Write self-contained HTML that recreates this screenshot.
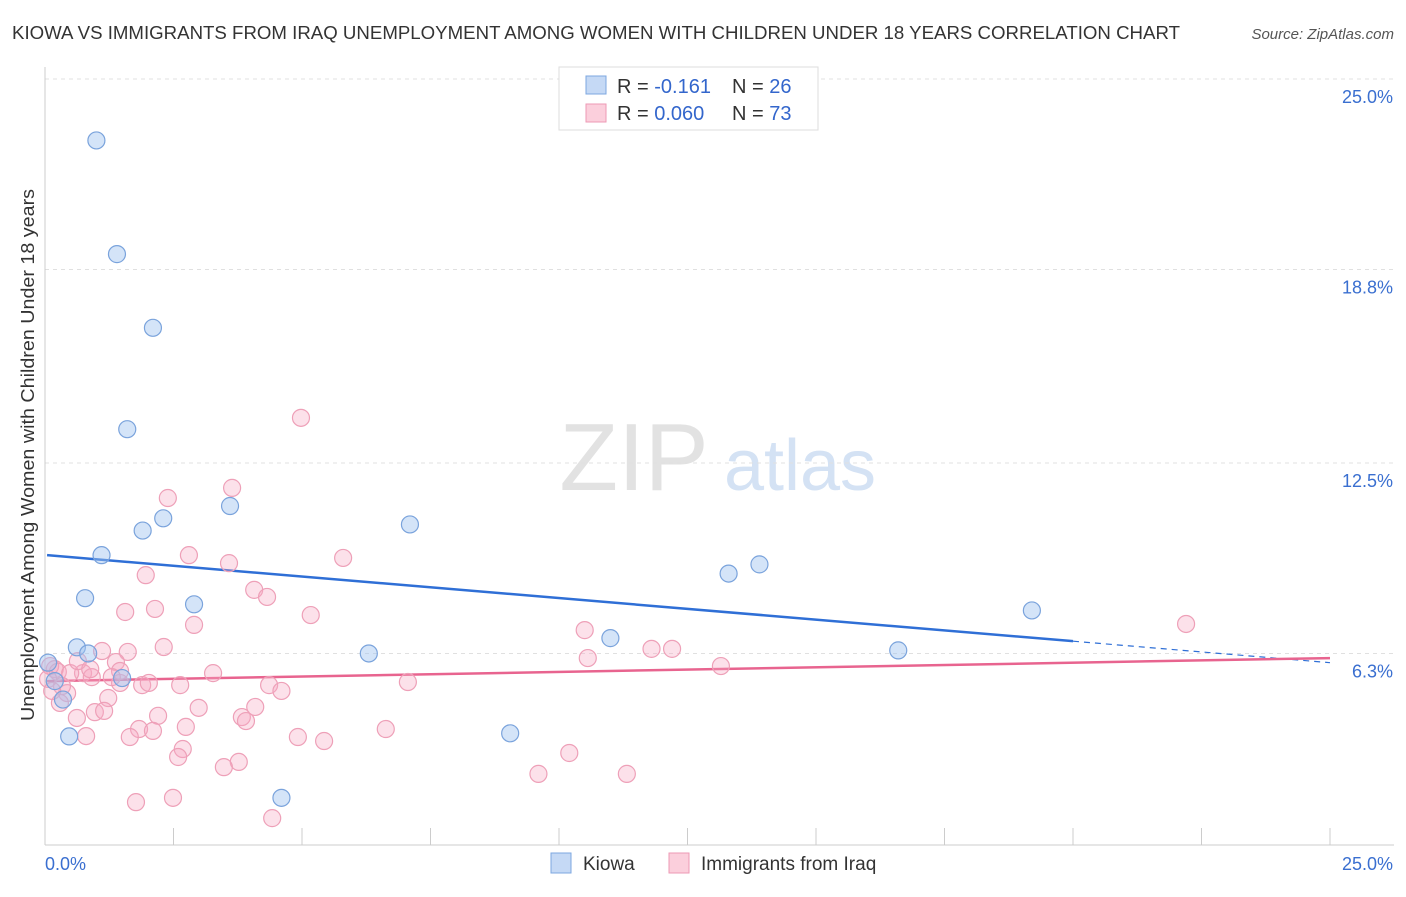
<!DOCTYPE html>
<html><head><meta charset="utf-8"><style>
body{margin:0;background:#fff;font-family:"Liberation Sans",sans-serif;}
svg text{font-family:"Liberation Sans",sans-serif;}
</style></head><body>
<svg id="chart" width="1406" height="892" viewBox="0 0 1406 892">
<text x="12" y="39" font-size="18" fill="#333" textLength="1168" lengthAdjust="spacingAndGlyphs">KIOWA VS IMMIGRANTS FROM IRAQ UNEMPLOYMENT AMONG WOMEN WITH CHILDREN UNDER 18 YEARS CORRELATION CHART</text>
<text x="1394" y="39" font-size="15" fill="#555" font-style="italic" text-anchor="end">Source: ZipAtlas.com</text>
<text x="634" y="490" font-size="96" fill="#e2e2e2" font-family="Liberation Serif" text-anchor="middle">ZIP</text>
<text x="800" y="490" font-size="72" fill="#d4e2f4" text-anchor="middle">atlas</text>
<g id="grid"></g><g id="axes"></g>
<g id="lines"></g><g id="pts"></g>
<text transform="translate(34,455) rotate(-90)" font-size="18" fill="#333" text-anchor="middle" textLength="532" lengthAdjust="spacingAndGlyphs">Unemployment Among Women with Children Under 18 years</text>
<g>
<rect x="559" y="67" width="259" height="63" fill="#fff" stroke="#ddd"/>
<rect x="586" y="76" width="20" height="18" fill="#c5d9f5" stroke="#7da7e0"/>
<rect x="586" y="104" width="20" height="18" fill="#fbcfdc" stroke="#ee9ab5"/>
<text x="617" y="93" font-size="20" fill="#333">R = <tspan fill="#3366cc"> -0.161</tspan></text>
<text x="732" y="93" font-size="20" fill="#333">N = <tspan fill="#3366cc">26</tspan></text>
<text x="617" y="120" font-size="20" fill="#333">R = <tspan fill="#3366cc">0.060</tspan></text>
<text x="732" y="120" font-size="20" fill="#333">N = <tspan fill="#3366cc">73</tspan></text>
</g>
<g>
<rect x="551" y="853" width="20" height="20" fill="#c5d9f5" stroke="#7da7e0"/>
<text x="583" y="870" font-size="19" fill="#333">Kiowa</text>
<rect x="669" y="853" width="20" height="20" fill="#fbcfdc" stroke="#ee9ab5"/>
<text x="701" y="870" font-size="19" fill="#333">Immigrants from Iraq</text>
</g>
</svg>
<script>
const yTicks=[25.0,18.8,12.5,6.3];
const yTickLabels=["25.0%","18.8%","12.5%","6.3%"];
const kiowaX=[1.0,1.4,2.1,1.6,2.3,1.9,3.6,7.1,1.1,0.78,2.9,0.62,0.84,1.5,0.06,0.19,0.35,0.47,6.3,9.05,11.0,13.3,13.9,16.6,19.2,4.6];
const kiowaY=[23.0,19.3,16.9,13.6,10.7,10.3,11.1,10.5,9.5,8.1,7.9,6.5,6.3,5.5,6.0,5.4,4.8,3.6,6.3,3.7,6.8,8.9,9.2,6.4,7.7,1.6];
const iraqX=[4.98,3.64,2.39,2.8,3.58,5.8,1.96,4.07,4.32,1.56,2.14,5.17,2.9,10.5,22.2,2.31,1.11,1.61,1.38,11.8,12.2,10.56,13.15,3.27,0.74,0.19,0.1,0.25,0.91,1.46,1.89,2.02,2.63,4.36,4.6,7.06,1.23,0.43,0.29,0.97,1.15,0.62,2.99,4.09,2.2,3.83,3.91,1.83,2.1,2.74,4.92,5.43,6.63,0.8,1.65,2.68,2.59,10.2,3.77,3.48,9.6,11.32,2.49,1.77,4.42,0.49,0.06,0.33,1.46,0.64,0.88,0.14,1.3];
const iraqY=[13.97,11.69,11.36,9.5,9.24,9.41,8.85,8.37,8.14,7.65,7.75,7.55,7.23,7.06,7.26,6.51,6.38,6.35,6.02,6.45,6.45,6.15,5.89,5.66,5.66,5.79,5.89,5.7,5.53,5.34,5.27,5.34,5.27,5.27,5.08,5.37,4.85,5.01,4.69,4.39,4.43,4.2,4.53,4.56,4.27,4.23,4.1,3.84,3.78,3.91,3.58,3.45,3.84,3.61,3.58,3.19,2.93,3.06,2.77,2.6,2.38,2.38,1.6,1.46,0.94,5.66,5.47,5.24,5.73,6.05,5.79,5.08,5.53];
const blueLine=[[0.04,9.5],[20.0,6.7],[25.0,6.0]];
const pinkLine=[[0.04,5.4],[25.0,6.15]];
const NS="http://www.w3.org/2000/svg";
const X=v=>45+v*51.4, Y=v=>847-v*30.72;
function mk(t,a,p){const e=document.createElementNS(NS,t);for(const k in a)e.setAttribute(k,a[k]);p.appendChild(e);return e;}
const grid=document.getElementById('grid'),axes=document.getElementById('axes');
yTicks.forEach((t,i)=>{
 const g=mk('line',{x1:45,x2:1394,y1:Y(t),y2:Y(t),stroke:'#e0e0e0','stroke-dasharray':'4,4'},grid);
 
 
 const tx=mk('text',{x:1393,y:Y(t)+24,'font-size':18,fill:'#3a6fd0','text-anchor':'end'},axes);
 tx.textContent=yTickLabels[i];
 
 
});
const xa=mk('line',{x1:45,x2:1394,y1:845,y2:845,stroke:'#ccc'},axes);


const ya=mk('line',{x1:45,x2:45,y1:67,y2:845,stroke:'#ccc'},axes);


for(let i=0;i<=10;i++){const t=mk('line',{x1:X(i*2.5),x2:X(i*2.5),y1:828,y2:845,stroke:'#ccc'},axes);
 
 }
[["0.0%",45,'start'],["25.0%",1393,'end']].forEach(a=>{const t=mk('text',{x:a[1],y:870,'font-size':18,fill:'#3a6fd0','text-anchor':a[2]},axes);t.textContent=a[0];
 
 });
const pts=document.getElementById('pts');
iraqX.forEach((x,i)=>{const c=mk('circle',{cx:X(x),cy:Y(iraqY[i]),r:8.5,fill:'rgba(246,170,195,0.35)',stroke:'#eea0b8','stroke-width':1.2},pts);
 
 });
kiowaX.forEach((x,i)=>{const c=mk('circle',{cx:X(x),cy:Y(kiowaY[i]),r:8.5,fill:'rgba(160,195,240,0.45)',stroke:'#7aa3dc','stroke-width':1.2},pts);
 
 });
const lines=document.getElementById('lines');
const b1=mk('line',{x1:X(blueLine[0][0]),y1:Y(blueLine[0][1]),x2:X(blueLine[1][0]),y2:Y(blueLine[1][1]),stroke:'#2f6fd6','stroke-width':2.5},lines);


const b2=mk('line',{x1:X(blueLine[1][0]),y1:Y(blueLine[1][1]),x2:X(blueLine[2][0]),y2:Y(blueLine[2][1]),stroke:'#2f6fd6','stroke-width':1.2,'stroke-dasharray':'6,5'},lines);


const p1=mk('line',{x1:X(pinkLine[0][0]),y1:Y(pinkLine[0][1]),x2:X(pinkLine[1][0]),y2:Y(pinkLine[1][1]),stroke:'#e8648f','stroke-width':2.5},lines);


</script>
</body></html>
